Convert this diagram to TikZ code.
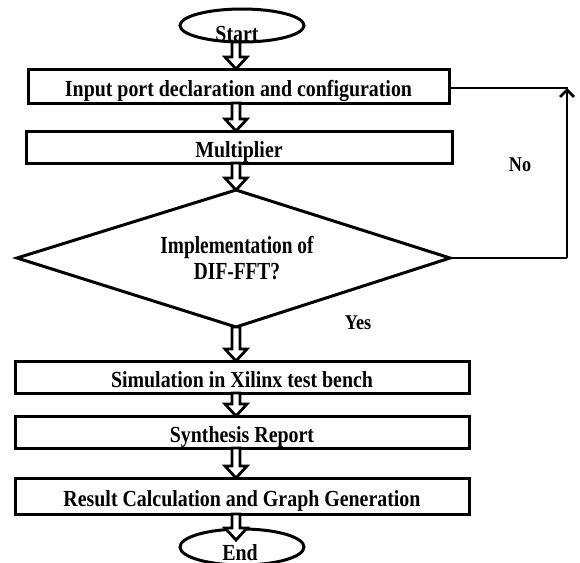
\documentclass[tikz,border=0pt]{standalone}
\usepackage{fontspec}
\setmainfont{Liberation Serif}[FakeStretch=0.79]
\newfontfamily\boxfont{Liberation Serif}[FakeStretch=0.865]
\usetikzlibrary{calc,arrows.meta,shapes.geometric}
\tikzset{
  procbox/.style={draw,line width=3pt,rectangle,inner sep=0pt,text height=21pt,text depth=0pt,font=\boxfont\fontsize{23}{26}\selectfont\bfseries},
  term/.style={draw,line width=3pt,ellipse,inner sep=0pt},
  termtxt/.style={inner sep=0pt,font=\boxfont\fontsize{23}{26}\selectfont\bfseries},
  lbl/.style={font=\boxfont\fontsize{21}{23}\selectfont\bfseries,inner sep=0pt},
  dtxt/.style={font=\fontsize{24.5}{26}\selectfont\bfseries,align=center,inner sep=0pt},
  hollow/.style={draw,line width=2.8pt,fill=white,line join=miter},
  flow/.style={line width=2.8pt}
}
\newcommand\blockarr[2]{%
  \path[hollow] let \p1=(#1), \p2=(#2) in
    (\x1-4pt,\y1) -- (\x1-4pt,\y2+12pt) -- (\x1-11pt,\y2+12pt) -- (\x1,\y2)
    -- (\x1+11pt,\y2+12pt) -- (\x1+4pt,\y2+12pt) -- (\x1+4pt,\y1) -- cycle;}
\begin{document}
\begin{tikzpicture}[x=1pt,y=-1pt]
\useasboundingbox (0,0) rectangle (580,562);
\begin{scope}
\clip (0,0) rectangle (580,562);
% terminals
\node[term,minimum width=124pt,minimum height=33pt] (start) at (242,25.5) {};
\node[term,minimum width=124pt,minimum height=36pt] (end) at (242,547) {};
% boxes
\node[procbox,minimum width=421pt,minimum height=34pt] (b1) at (238.5,86) {Input port declaration and configuration};
\node[procbox,minimum width=426pt,minimum height=32pt] (b2) at (239,147) {Multiplier};
\node[procbox,minimum width=454pt,minimum height=32pt] (b3) at (242,377) {Simulation in Xilinx test bench};
\node[procbox,minimum width=454pt,minimum height=32pt] (b4) at (242,432) {Synthesis Report};
\node[procbox,minimum width=454pt,minimum height=36pt] (b5) at (242,496) {Result Calculation and Graph Generation};
% diamond
\coordinate (dt) at (236,190);
\coordinate (dl) at (17,258);
\coordinate (dr) at (450,258);
\coordinate (db) at (236,327);
\draw[line width=3pt,line join=miter] (dt) -- (dr) -- (db) -- (dl) -- cycle;
\node[dtxt] (dtext) at (237,258) {Implementation of\\DIF-FFT?};
% block arrows
\coordinate (s0) at (236,42);
\coordinate (t1) at (236,69);
\blockarr{s0}{t1}
\coordinate (s1) at (236,103);
\coordinate (t2) at (236,131);
\blockarr{s1}{t2}
\coordinate (s2) at (236,163);
\blockarr{s2}{dt}
\coordinate (t3) at (236,361);
\blockarr{db}{t3}
\coordinate (s3) at (236,393);
\coordinate (t4) at (236,416);
\blockarr{s3}{t4}
\coordinate (s4) at (236,448);
\coordinate (t5) at (236,478);
\blockarr{s4}{t5}
\coordinate (s5) at (236,514);
\coordinate (endtip) at (236,540);
\blockarr{s5}{endtip}
% terminal texts
\node[termtxt] (starttxt) at (237,34) {Start};
\node[termtxt] (endtxt) at (240,553) {End};
% No loop
\coordinate (nr) at (567,258);
\coordinate (nt) at (567,88);
\draw[flow] (dr) -- (nr);
\draw[flow,-{Straight Barb[length=7pt,width=14pt,line width=2.8pt]}] (nr) -- (nt);
\draw[flow] (b1.east |- nt) -- ($(nt)+(1.4,0)$);
\node[lbl] (no) at (520,165) {No};
\node[lbl] (yes) at (358,323) {Yes};
\end{scope}
\end{tikzpicture}
\end{document}
